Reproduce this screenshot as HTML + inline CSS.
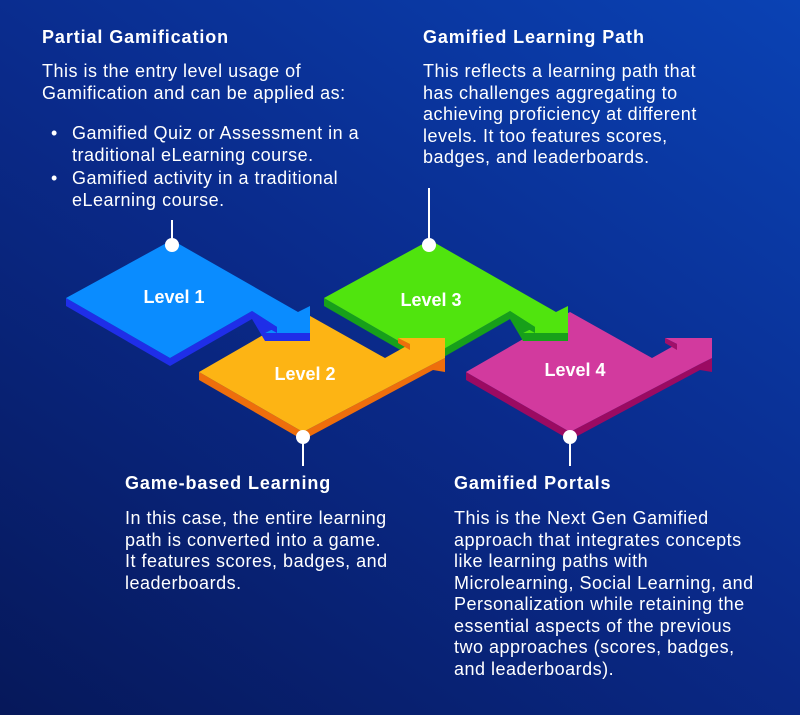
<!DOCTYPE html>
<html><head><meta charset="utf-8"><style>
*{margin:0;padding:0;box-sizing:border-box}
html,body{width:800px;height:715px;overflow:hidden}
body{background:linear-gradient(35deg,#06185a 0%,#0a2a8a 50%,#0a42b4 100%);font-family:"Liberation Sans",sans-serif;color:#fff;position:relative}
.t{position:absolute;font-size:18px;letter-spacing:0.5px;line-height:21.5px;white-space:nowrap}
.h{font-weight:bold;letter-spacing:0.9px}
.b{position:absolute;font-size:18px;letter-spacing:0.5px;line-height:21.5px;white-space:nowrap}
.b span{position:absolute;left:-21px}
svg{position:absolute;left:0;top:0}
</style></head><body>
<svg width="800" height="715" viewBox="0 0 800 715">
<g stroke="#fff" stroke-width="2">
<line x1="172" y1="220" x2="172" y2="244"/>
<line x1="429" y1="188" x2="429" y2="244"/>
<line x1="303" y1="436" x2="303" y2="466"/>
<line x1="570" y1="436" x2="570" y2="466"/>
</g>
<!-- Level 4 (pink) -->
<g transform="translate(267,0)">
<polygon points="199,372 303,432 433,364 445,358 445,372 433,370 303,440 199,380" fill="#9b0a62"/>
<polygon points="303,312 385,358 410,344 398,338 445,338 445,358 433,364 303,432 199,372" fill="#d23a9e"/>
<polygon points="398,338 410,344 410,350 398,343" fill="#a0106a"/>
</g>
<!-- Level 3 (green) -->
<g transform="translate(258,0)">
<polygon points="66,298 170,358 252,311 277,327 265,333 310,333 310,341 265,341 252,319 170,366 66,306" fill="#17a01a"/>
<polygon points="172,240 298,312 310,306 310,333 265,333 277,327 252,311 170,358 66,298" fill="#50e40e"/>
<polygon points="252,311 277,327 277,333 252,319" fill="#17a01a"/>
</g>
<!-- Level 2 (orange) -->
<polygon points="199,372 303,432 433,364 445,358 445,372 433,370 303,440 199,380" fill="#ee6e0c"/>
<polygon points="303,312 385,358 410,344 398,338 445,338 445,358 433,364 303,432 199,372" fill="#fdb414"/>
<polygon points="398,338 410,344 410,350 398,343" fill="#ee6e0c"/>
<!-- Level 1 (blue) -->
<polygon points="66,298 170,358 252,311 277,327 265,333 310,333 310,341 265,341 252,319 170,366 66,306" fill="#1f2ee8"/>
<polygon points="172,240 298,312 310,306 310,333 265,333 277,327 252,311 170,358 66,298" fill="#0a8cff"/>
<polygon points="252,311 277,327 277,333 252,319" fill="#1f2ee8"/>
<g fill="#fff">
<circle cx="172" cy="245" r="7"/>
<circle cx="429" cy="245" r="7"/>
<circle cx="303" cy="437" r="7"/>
<circle cx="570" cy="437" r="7"/>
</g>
<g fill="#fff" font-family="Liberation Sans, sans-serif" font-weight="bold" font-size="18" text-anchor="middle">
<text x="174" y="303">Level 1</text>
<text x="305" y="380">Level 2</text>
<text x="431" y="306">Level 3</text>
<text x="575" y="376">Level 4</text>
</g>
</svg>
<div class="t h" style="left:42px;top:27px">Partial Gamification</div>
<div class="t" style="left:42px;top:61px">This is the entry level usage of<br>Gamification and can be applied as:</div>
<div class="b" style="left:72px;top:123px"><span>•</span>Gamified Quiz or Assessment in a<br>traditional eLearning course.</div>
<div class="b" style="left:72px;top:168px"><span>•</span>Gamified activity in a traditional<br>eLearning course.</div>
<div class="t h" style="left:423px;top:27px">Gamified Learning Path</div>
<div class="t" style="left:423px;top:61px">This reflects a learning path that<br>has challenges aggregating to<br>achieving proficiency at different<br>levels. It too features scores,<br>badges, and leaderboards.</div>
<div class="t h" style="left:125px;top:473px">Game-based Learning</div>
<div class="t" style="left:125px;top:508px">In this case, the entire learning<br>path is converted into a game.<br>It features scores, badges, and<br>leaderboards.</div>
<div class="t h" style="left:454px;top:473px">Gamified Portals</div>
<div class="t" style="left:454px;top:508px">This is the Next Gen Gamified<br>approach that integrates concepts<br>like learning paths with<br>Microlearning, Social Learning, and<br>Personalization while retaining the<br>essential aspects of the previous<br>two approaches (scores, badges,<br>and leaderboards).</div>
</body></html>
